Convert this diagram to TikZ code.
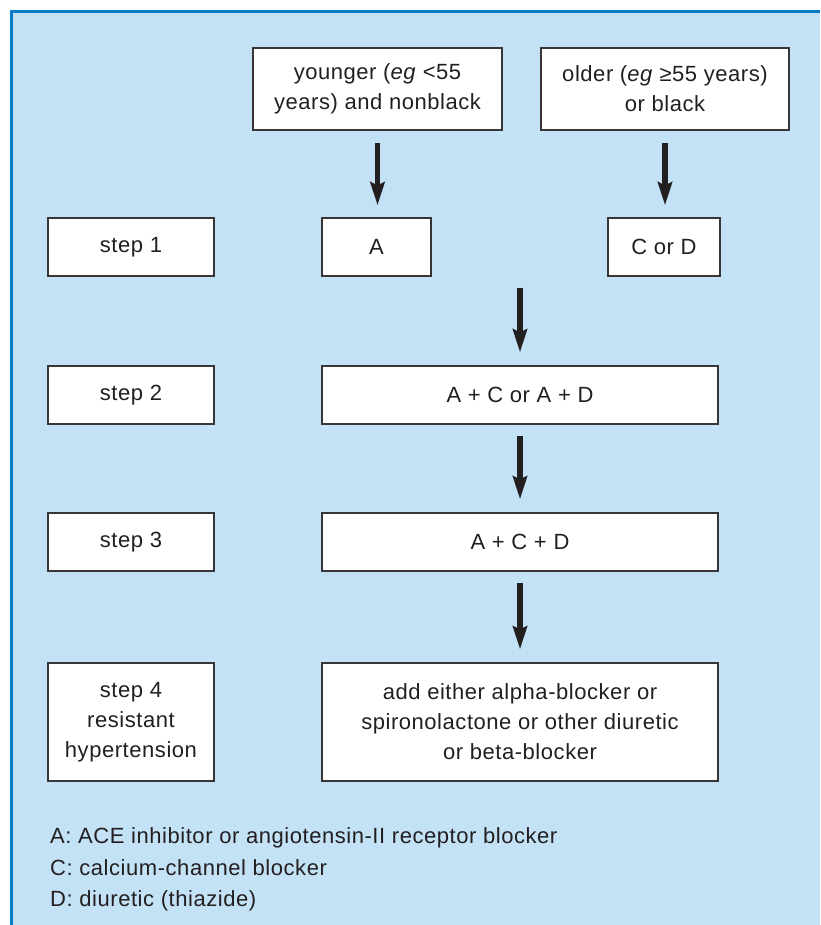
\documentclass[tikz,border=0pt]{standalone}
\usepackage{fontspec}
\setmainfont[LetterSpace=2.5]{Liberation Sans}
\usetikzlibrary{arrows.meta}
\definecolor{bgblue}{HTML}{C3E2F6}
\definecolor{frameblue}{HTML}{0A7CC6}
\definecolor{ink}{HTML}{231F20}
\definecolor{boxline}{HTML}{3A3638}
\begin{document}
\begin{tikzpicture}[x=1pt,y=-1pt,
  box/.style={draw=boxline, line width=1.3pt, fill=white, text=ink, align=center,
    inner sep=0pt, font=\fontsize{22}{30}\selectfont},
  arr/.style={draw=ink, line width=5.5pt, -{Stealth[length=23pt,width=14pt,inset=3pt]}},
  legend/.style={anchor=base west, inner sep=0pt, text=ink, font=\fontsize{22}{30}\selectfont}]
\useasboundingbox (0,0) rectangle (820,925);
\fill[bgblue] (11,11) rectangle (820,925);
\draw[frameblue, line width=3pt] (11.5,925) -- (11.5,11.5) -- (820,11.5);

\node[box, minimum width=249pt, minimum height=82pt] (young) at (377.5,89) {younger (\textit{eg} <55\\years) and nonblack};
\node[box, minimum width=248pt, minimum height=82pt] (old) at (665,89) {older (\textit{eg} ≥55 years)\\or black};

\node[box, minimum width=166pt, minimum height=58pt] (s1) at (131,247) {step 1};
\node[box, minimum width=109pt, minimum height=58pt] (A) at (376.5,247) {A};
\node[box, minimum width=112pt, minimum height=58pt] (CD) at (664,247) {C or D};

\node[box, minimum width=166pt, minimum height=58pt] (s2) at (131,395) {step 2};
\node[box, minimum width=396pt, minimum height=58pt] (AC) at (520,395) {A + C or A + D};

\node[box, minimum width=166pt, minimum height=58pt] (s3) at (131,542) {step 3};
\node[box, minimum width=396pt, minimum height=58pt] (ACD) at (520,542) {A + C + D};

\node[box, minimum width=166pt, minimum height=118pt] (s4) at (131,722) {step 4\\resistant\\hypertension};
\node[box, minimum width=396pt, minimum height=118pt] (add) at (520,722) {add either alpha-blocker or\\spironolactone or other diuretic\\or beta-blocker};

\draw[arr, shorten <=12pt, shorten >=12pt] (young.south) -- (young.south |- A.north);
\draw[arr, shorten <=12pt, shorten >=12pt] (old.south) -- (old.south |- CD.north);
\draw[arr, shorten <=11pt, shorten >=13pt] (AC.north |- CD.south) -- (AC.north);
\draw[arr, shorten <=11pt, shorten >=13pt] (AC.south) -- (ACD.north);
\draw[arr, shorten <=11pt, shorten >=13pt] (ACD.south) -- (add.north);

\node[legend] (legA) at (50,843) {A: ACE inhibitor or angiotensin-II receptor blocker};
\node[legend] (legC) at (50,875) {C: calcium-channel blocker};
\node[legend] (legD) at (50,906.5) {D: diuretic (thiazide)};
\end{tikzpicture}
\end{document}
